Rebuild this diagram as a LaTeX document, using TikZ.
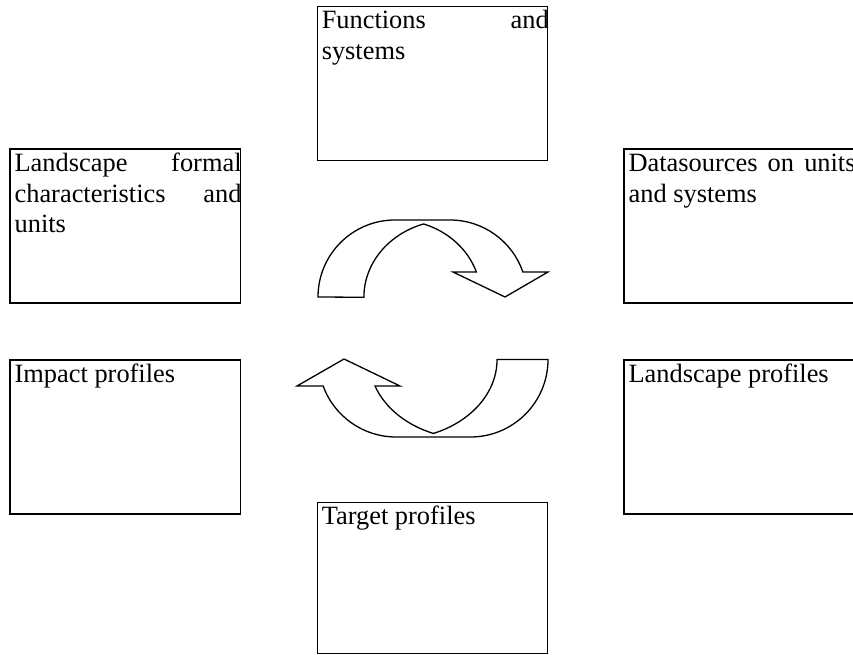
\documentclass[tikz,border=0pt]{standalone}
\usepackage{fontspec}
\setmainfont{Liberation Serif}
\newcommand\jline[1]{\hbox to 227pt{#1}}
\begin{document}
\begin{tikzpicture}[x=1pt,y=1pt,
  box/.style={draw, line width=1.3pt, rectangle, minimum width=230.5pt, minimum height=154pt, inner sep=0pt, outer sep=0pt},
  lbl/.style={anchor=base west, inner sep=0pt, outer sep=0pt, font=\fontsize{26.4}{30.5}\selectfont},
  cyc/.style={draw, line width=1.3pt, line join=miter, fill=white}]
\useasboundingbox (0,0) rectangle (853,655);
\clip (0,0) rectangle (853,655);
% boxes
\node[box] (fs) at (432.5,571.6) {};
\node[box] (lu) at (125.35,428.85) {};
\node[box] (ru) at (739.35,428.85) {};
\node[box] (ip) at (125.35,218) {};
\node[box] (lp) at (739.35,218) {};
\node[box, minimum height=151pt] (tp) at (432.5,77.2) {};
% texts
\node[lbl] (fsT) at ([xshift=4.5pt,yshift=-22.5pt]fs.north west)
  {\vtop{\hsize=227pt \jline{Functions\hfill and}\jline{systems\hfil}}};
\node[lbl] (luT) at ([xshift=4.5pt,yshift=-22.5pt]lu.north west)
  {\vtop{\hsize=227pt \jline{Landscape\hfill formal}\jline{characteristics\hfill and}\jline{units\hfil}}};
\node[lbl] (ruT) at ([xshift=4.5pt,yshift=-22.5pt]ru.north west)
  {\vtop{\hsize=227pt \jline{Datasources\hfill on\hfill units}\jline{and systems\hfil}}};
\node[lbl] (ipT) at ([xshift=4.5pt,yshift=-22.5pt]ip.north west) {Impact profiles};
\node[lbl] (lpT) at ([xshift=4.5pt,yshift=-22.5pt]lp.north west) {Landscape profiles};
\node[lbl] (tpT) at ([xshift=4.5pt,yshift=-22.5pt]tp.north west) {Target profiles};
% upper curved arrow (pointing down-right)
\draw[cyc] (318,358) arc[start angle=180,end angle=90,radius=77] -- (450,435)
  arc[start angle=90,end angle=18.94,radius=77] -- (548,383) -- (505,358) -- (453,383) -- (476.4,383)
  arc[start angle=18.94,end angle=71.5,x radius=84,y radius=77]
  arc[start angle=107.8,end angle=180,x radius=86,y radius=77] -- cycle;
% lower curved arrow (pointing up-left)
\draw[cyc] (344,296) -- (400,269) -- (375,269)
  arc[start angle=199.47,end angle=248.5,x radius=101.3,y radius=79.5]
  arc[start angle=291.7,end angle=360,x radius=101,y radius=79.5] -- (548,295.5)
  arc[start angle=0,end angle=-90,radius=77.5] -- (396,218)
  arc[start angle=270,end angle=200,radius=77.5] -- (297,269) -- cycle;
\end{tikzpicture}
\end{document}
